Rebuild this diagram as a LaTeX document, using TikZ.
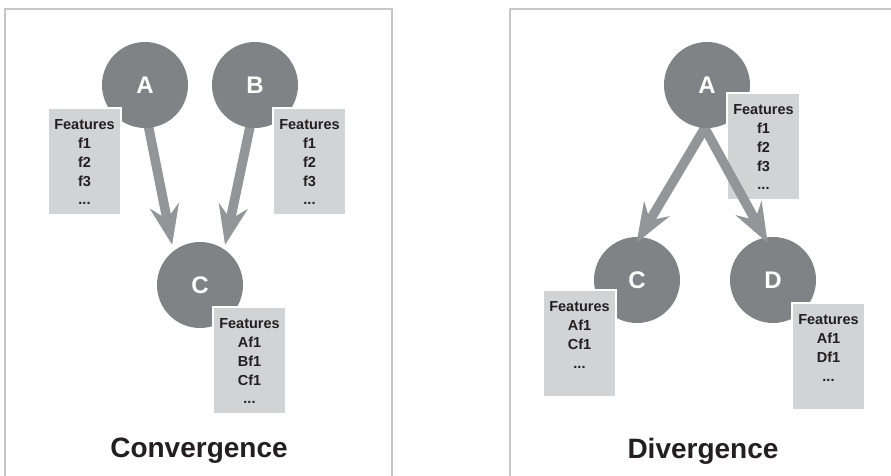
\documentclass[tikz,border=0pt]{standalone}
\usepackage{fontspec}
\setmainfont{Liberation Sans}
\usetikzlibrary{arrows.meta}
\definecolor{circ}{HTML}{808285}
\definecolor{arrg}{HTML}{939598}
\definecolor{boxg}{HTML}{D1D3D4}
\definecolor{frameg}{HTML}{C6C6C6}
\definecolor{txt}{HTML}{231F20}
\pgfdeclarelayer{low}
\pgfdeclarelayer{arr}
\pgfdeclarelayer{top}
\pgfsetlayers{low,arr,main,top}
\begin{document}
\begin{tikzpicture}[x=1pt,y=-1pt,
  frame/.style={draw=frameg, line width=1.2pt},
  circnode/.style={circle, fill=circ, minimum size=86pt, inner sep=0pt, text=white,
    font=\fontsize{24}{24}\selectfont\bfseries},
  fbox/.style={rectangle, fill=boxg, draw=white, line width=2pt, minimum width=73pt,
    minimum height=107pt, inner sep=0pt, anchor=north west},
  ftxt/.style={anchor=north, align=center, inner sep=0pt, text=txt,
    font=\fontsize{14.5}{18.8}\selectfont\bfseries},
  conn/.style={draw=arrg, line width=9.5pt,
    -{Stealth[length=40pt, width=30pt, inset=14pt, line width=0pt]}},
  ttl/.style={text=txt, inner sep=0pt, font=\fontsize{28}{28}\selectfont\bfseries}]
\useasboundingbox (0,0) rectangle (891,476);

\begin{pgfonlayer}{low}
  % panels
  \draw[frame] (5,9) rectangle (392,490);
  \draw[frame] (510,9) rectangle (900,490);
  % lower circles
  \node[circnode] (lC) at (200,285) {C};
  \node[circnode] (rC) at (637,280) {C};
  \node[circnode] (rD) at (773,280) {D};
  % lower feature boxes
  \node[fbox] (blC) at (212,306) {};
  \node[ftxt] at ([yshift=-12.5pt]blC.north) {Features\\Af1\\Bf1\\Cf1\\...};
  \node[fbox] (brC) at (542,289) {};
  \node[ftxt] at ([yshift=-12.5pt]brC.north) {Features\\Af1\\Cf1\\...};
  \node[fbox] (brD) at (791,302) {};
  \node[ftxt] at ([yshift=-12.5pt]brD.north) {Features\\Af1\\Df1\\...};
\end{pgfonlayer}

% upper circles
\node[circnode] (lA) at (145,85) {\raisebox{-3pt}{A}};
\node[circnode] (lB) at (255,85) {\raisebox{-3pt}{B}};
\node[circnode] (rA) at (707,85) {\raisebox{-3pt}{A}};
% upper feature boxes
\node[fbox] (blA) at (47,107) {};
\node[ftxt] at ([yshift=-12.5pt]blA.north) {Features\\f1\\f2\\f3\\...};
\node[fbox] (blB) at (272,107) {};
\node[ftxt] at ([yshift=-12.5pt]blB.north) {Features\\f1\\f2\\f3\\...};
\node[fbox] (brA) at (726,92) {};
\node[ftxt] at ([yshift=-12.5pt]brA.north) {Features\\f1\\f2\\f3\\...};

% titles
\node[ttl] (tl) at (199,451) {Convergence};
\node[ttl] (tr) at (703,451) {Divergence};

\begin{pgfonlayer}{arr}
  \draw[conn, shorten <=-8pt, shorten >=6.4pt] (lA.-85) -- (lC.128);
  \draw[conn, shorten <=-8pt, shorten >=4.5pt] (lB.-97) -- (lC.56);
  \draw[conn, shorten <=-8pt, shorten >=-6.8pt] (rA.-93) -- (rC.86);
  \draw[conn, shorten <=-8pt, shorten >=-6pt] (rA.-93) -- (rD.101);
\end{pgfonlayer}

\begin{pgfonlayer}{top}
  \begin{scope}
    \clip (brA.south west) rectangle (brA.north east);
    \draw[conn, shorten <=-8pt, shorten >=-6pt] (rA.-93) -- (rD.101);
  \end{scope}
\end{pgfonlayer}
\end{tikzpicture}
\end{document}
